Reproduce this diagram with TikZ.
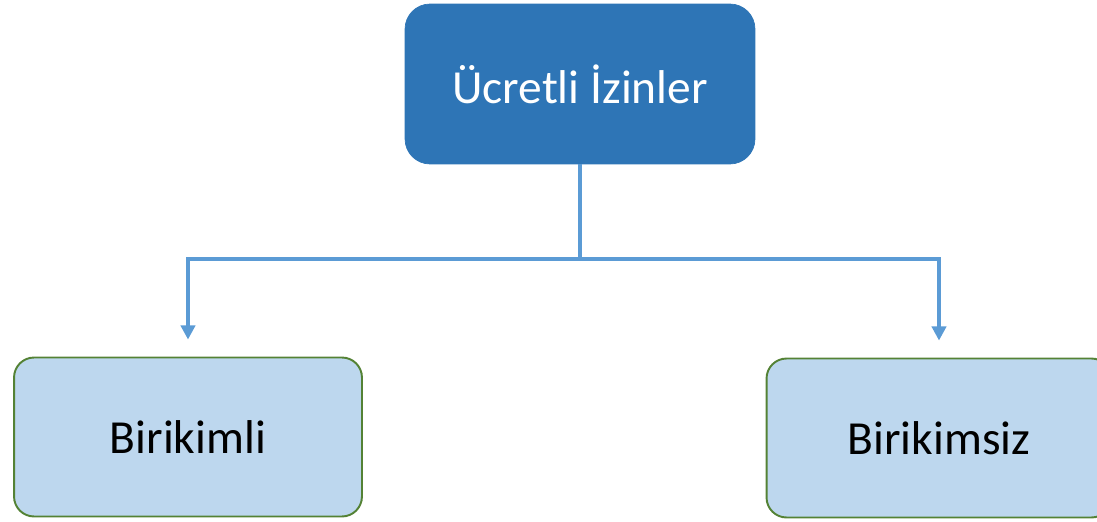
\documentclass[tikz,border=0pt]{standalone}
\usepackage{fontspec}
\setmainfont{Carlito}
\usetikzlibrary{arrows.meta}
\definecolor{topblue}{HTML}{2E75B6}
\definecolor{paleblue}{HTML}{BDD7EE}
\definecolor{leafgreen}{HTML}{548235}
\definecolor{linkblue}{HTML}{5B9BD5}
\tikzset{
    headbox/.style={fill=topblue,draw=topblue,rounded corners=0.5cm,text=white,
        minimum width=7cm,minimum height=3.2cm,inner sep=0pt,
        font=\fontsize{27}{31}\selectfont},
    leafbox/.style={fill=paleblue,draw=leafgreen,line width=1.1pt,rounded corners=0.4cm,
        minimum width=6.96cm,minimum height=3.18cm,inner sep=0pt,
        font=\fontsize{27}{31}\selectfont},
    link/.style={draw=linkblue,line width=2pt},
    linkarrow/.style={link,-{Triangle[width=8pt,length=8pt]},shorten >=17*0.02cm}
}
\begin{document}
\begin{tikzpicture}[x=0.02cm,y=0.02cm]
        \useasboundingbox (0,0) rectangle (1097,521);
        \clip (0,0) rectangle (1097,521);

        % Top box
        \node[headbox] (ucretli) at (580,437) {Ücretli İzinler};

        % Bottom boxes
        \node[leafbox] (birikimli) at (188,84) {Birikimli};
        \node[leafbox,minimum width=6.9cm] (birikimsiz) at (939,83) {Birikimsiz};

        % Connectors
        \coordinate (split) at (580,262);
        \draw[link] (ucretli.south) -- (split);
        \draw[linkarrow] (split) -| (birikimli.north);
        \draw[linkarrow] (split) -| (birikimsiz.north);
    \end{tikzpicture}
\end{document}
